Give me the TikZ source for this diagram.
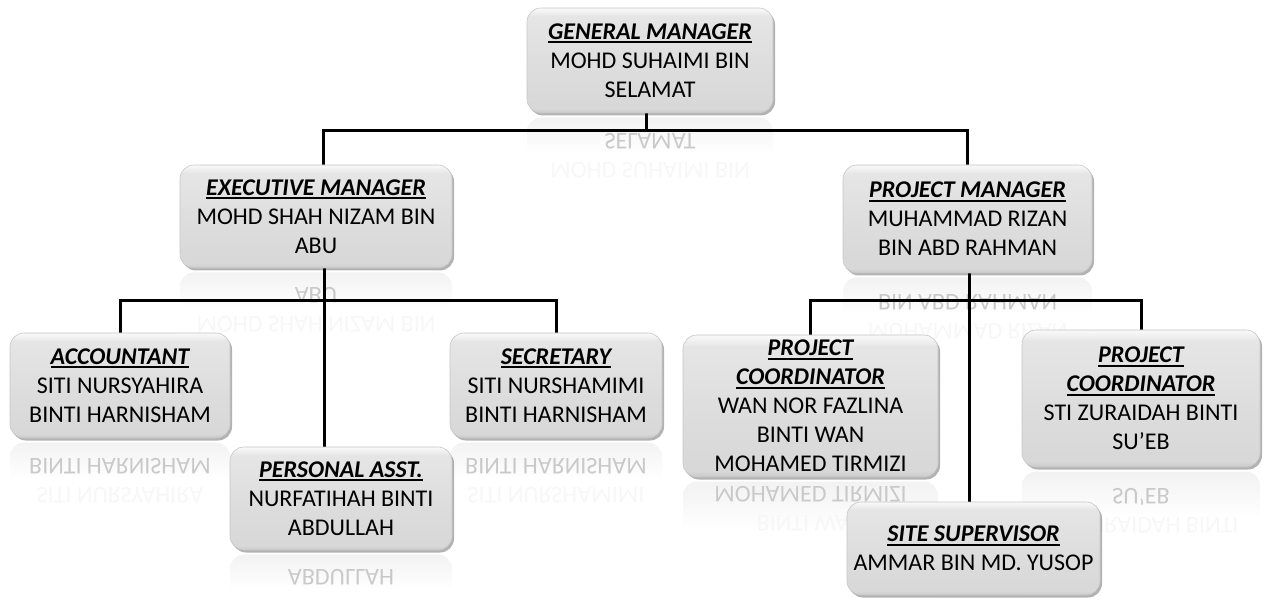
\documentclass[tikz,border=0pt]{standalone}
\usepackage{fontspec}
\setmainfont{Carlito}
\usetikzlibrary{shadows,backgrounds}

% box shading: bright top rim, gray body, darker bottom
\colorlet{shadelow}{gray!42}
\colorlet{shadebody}{gray!31}
\colorlet{shademid}{gray!26}
\colorlet{shadehigh}{gray!20}
\colorlet{shaderim}{gray!6}
\pgfdeclareverticalshading{boxshade}{100bp}{color(0bp)=(shadelow); color(25bp)=(shadelow); color(27bp)=(shadebody); color(50bp)=(shademid); color(71bp)=(shadehigh); color(74.5bp)=(shaderim); color(100bp)=(shaderim)}
% mirror image: faint gray at the box edge, white further down
\colorlet{reflgray}{gray!10}
\pgfdeclareverticalshading{reflshade}{100bp}{color(0bp)=(white); color(58bp)=(white); color(75bp)=(reflgray); color(100bp)=(reflgray)}

\newcommand{\boxfont}{\fontsize{24}{29}\selectfont}
\newcommand{\ttl}[1]{\setbox0\hbox{\bfseries\itshape #1}\leavevmode\rlap{\rule[-4pt]{\wd0}{1.8pt}}\box0}
\newcommand{\lastln}[1]{\textcolor{gray!42}{#1}}
\newcommand{\fadeln}[1]{\textcolor{gray!6}{#1}}

\begin{document}
\begin{tikzpicture}[
        x=1pt, y=-1pt,
        orgbox/.style={shade, shading=boxshade, draw=gray!45, line width=0.6pt, rounded corners=14pt,
            align=center, inner sep=0pt, font=\boxfont,
            drop shadow={shadow xshift=2pt, shadow yshift=-2.5pt, opacity=0.3, fill=black}},
        refl/.style={yscale=-1, transform shape, anchor=south, rounded corners=14pt,
            shade, shading=reflshade, align=center, inner sep=0pt, font=\boxfont},
        conn/.style={line width=3pt, black},
    ]
    \useasboundingbox (0,0) rectangle (1269,601);

    % Top level
    \node[orgbox, minimum width=246pt, minimum height=105pt] (gm) at (650,60.5)
        {\ttl{GENERAL MANAGER}\\MOHD SUHAIMI BIN\\SELAMAT};

    % Managers
    \node[orgbox, minimum width=272pt, minimum height=103pt] (em) at (316,216.5)
        {\ttl{EXECUTIVE MANAGER}\\MOHD SHAH NIZAM BIN\\ABU};
    \node[orgbox, minimum width=249pt, minimum height=108pt] (pm) at (967.5,219)
        {\ttl{PROJECT MANAGER}\\MUHAMMAD RIZAN\\BIN ABD RAHMAN};

    % Staff under executive manager
    \node[orgbox, minimum width=220pt, minimum height=105pt] (acc) at (120,385.5)
        {\ttl{ACCOUNTANT}\\SITI NURSYAHIRA\\BINTI HARNISHAM};
    \node[orgbox, minimum width=212pt, minimum height=105pt] (sec) at (556,385.5)
        {\ttl{SECRETARY}\\SITI NURSHAMIMI\\BINTI HARNISHAM};
    \node[orgbox, minimum width=222pt, minimum height=103pt] (pa) at (341,498.5)
        {\ttl{PERSONAL ASST.}\\NURFATIHAH BINTI\\ABDULLAH};

    % Staff under project manager
    \node[orgbox, minimum width=255pt, minimum height=142pt] (pc1) at (810.5,406)
        {\ttl{PROJECT}\\\ttl{COORDINATOR}\\WAN NOR FAZLINA\\BINTI WAN\\MOHAMED TIRMIZI};
    \node[orgbox, minimum width=238pt, minimum height=137pt] (pc2) at (1141,398.5)
        {\ttl{PROJECT}\\\ttl{COORDINATOR}\\STI ZURAIDAH BINTI\\SU’EB};
    \node[orgbox, minimum width=253pt, minimum height=93pt] (ss) at (973.5,548.5)
        {\ttl{SITE SUPERVISOR}\\AMMAR BIN MD. YUSOP};

    \begin{scope}[on background layer]
        % Mirror images under the boxes
        \foreach \b in {gm,em,pm,acc,sec,pa,pc1,pc2,ss}
            \coordinate (\b-m) at ([yshift=-4pt]\b.south);
        \node[refl, minimum width=246pt, minimum height=105pt] (gm-r) at (gm-m)
            {\phantom{\ttl{GENERAL MANAGER}}\\\fadeln{MOHD SUHAIMI BIN}\\\lastln{SELAMAT}};
        \node[refl, minimum width=272pt, minimum height=103pt] (em-r) at (em-m)
            {\phantom{\ttl{EXECUTIVE MANAGER}}\\\fadeln{MOHD SHAH NIZAM BIN}\\\lastln{ABU}};
        \node[refl, minimum width=249pt, minimum height=108pt] (pm-r) at (pm-m)
            {\phantom{\ttl{PROJECT MANAGER}}\\\fadeln{MUHAMMAD RIZAN}\\\lastln{BIN ABD RAHMAN}};
        \node[refl, minimum width=220pt, minimum height=105pt] (acc-r) at (acc-m)
            {\phantom{\ttl{ACCOUNTANT}}\\\fadeln{SITI NURSYAHIRA}\\\lastln{BINTI HARNISHAM}};
        \node[refl, minimum width=212pt, minimum height=105pt] (sec-r) at (sec-m)
            {\phantom{\ttl{SECRETARY}}\\\fadeln{SITI NURSHAMIMI}\\\lastln{BINTI HARNISHAM}};
        \node[refl, minimum width=222pt, minimum height=103pt] (pa-r) at (pa-m)
            {\phantom{\ttl{PERSONAL ASST.}}\\\phantom{NURFATIHAH BINTI}\\\lastln{ABDULLAH}};
        \node[refl, minimum width=255pt, minimum height=142pt] (pc1-r) at (pc1-m)
            {\phantom{\ttl{PROJECT}}\\\phantom{\ttl{COORDINATOR}}\\\phantom{WAN NOR FAZLINA}\\\fadeln{BINTI WAN}\\\lastln{MOHAMED TIRMIZI}};
        \node[refl, minimum width=238pt, minimum height=137pt] (pc2-r) at (pc2-m)
            {\phantom{\ttl{PROJECT}}\\\phantom{\ttl{COORDINATOR}}\\\fadeln{STI ZURAIDAH BINTI}\\\lastln{SU’EB}};

        % Connectors
        \draw[conn] ([xshift=-4pt]gm.south) -- ([xshift=-4pt, yshift=-17pt]gm.south);
        \draw[conn] ([xshift=7pt]em.north) |- ([yshift=-17pt]gm.south) -| (pm.north);

        \draw[conn] ([xshift=8pt]em.south) -- ([xshift=8pt]em.south |- pa.north);
        \draw[conn] (acc.north) |- ([xshift=8pt, yshift=-32pt]em.south) -| (sec.north);

        \draw[conn] ([xshift=2pt]pm.south) -- ([xshift=2pt]pm.south |- ss.north);
        \draw[conn] (pc1.north) |- ([xshift=2pt, yshift=-27pt]pm.south) -| (pc2.north);
    \end{scope}

\end{tikzpicture}
\end{document}
